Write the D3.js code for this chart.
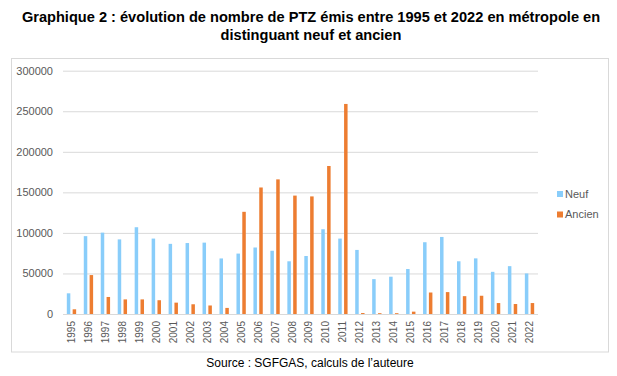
<!DOCTYPE html>
<html lang="fr">
<head>
  <meta charset="UTF-8">
  <title>PTZ émis 1995-2022</title>
  <style>
    body { margin: 0; background: #fff; }
    svg { display: block; font-family: "Liberation Sans", Arial, sans-serif; }
  </style>
  <script src="https://d3js.org/d3.v7.min.js"></script>
</head>
<body>
  <svg id="chart" width="617" height="376"></svg>
  <script>
    const years = ['1995','1996','1997','1998','1999','2000','2001','2002','2003','2004',
      '2005','2006','2007','2008','2009','2010','2011','2012','2013','2014',
      '2015','2016','2017','2018','2019','2020','2021','2022'];
    const neuf = [25500, 96000, 100300, 92000, 107000, 93000, 86500, 87500, 88000, 68500,
      74500, 82000, 78000, 65000, 71500, 104500, 93000, 79000, 43000, 46000,
      55500, 88500, 95000, 65000, 68600, 52000, 59000, 50000];
    const ancien = [5800, 48000, 21000, 18000, 18000, 17000, 14000, 12000, 10500, 7500,
      126000, 156000, 166000, 146000, 145000, 182500, 259000, 1200, 1000, 1000,
      2900, 26500, 27000, 22000, 22500, 13500, 12300, 13500];
    const series = ['Neuf', 'Ancien'];
    const colors = ['#89cdfa', '#ed7d31'];
    const yTicks = [0, 50000, 100000, 150000, 200000, 250000, 300000];

    const svg = d3.select('#chart');
    const m = { left: 63, right: 538, top: 70.7, bottom: 314 };

    // titre
    const title = svg.append('text')
      .attr('text-anchor', 'middle')
      .attr('font-size', 14.6)
      .attr('font-weight', 'bold')
      .attr('fill', '#000');
    title.append('tspan').attr('x', 311).attr('y', 22)
      .text('Graphique 2 : évolution de nombre de PTZ émis entre 1995 et 2022 en métropole en');
    title.append('tspan').attr('x', 311).attr('y', 40)
      .text('distinguant neuf et ancien');

    // cadre
    svg.append('rect')
      .attr('x', 11.5).attr('y', 58.5)
      .attr('width', 597).attr('height', 293.5)
      .attr('fill', 'none')
      .attr('stroke', '#d9d9d9');

    const x0 = d3.scaleBand().domain(years)
      .range([m.left, m.right])
      .paddingInner(0.45).paddingOuter(0.225);
    const x1 = d3.scaleBand().domain(series)
      .range([0, x0.bandwidth()])
      .paddingInner(0.4);
    const y = d3.scaleLinear().domain([0, 300000]).range([m.bottom, m.top]);

    // grille + étiquettes Y
    const yAxis = svg.append('g')
      .attr('transform', `translate(${m.left},0)`)
      .call(d3.axisLeft(y).tickValues(yTicks).tickSize(-(m.right - m.left)).tickPadding(10).tickFormat(d3.format('d')));
    yAxis.select('.domain').remove();
    yAxis.selectAll('line').attr('stroke', '#d9d9d9');
    yAxis.selectAll('text').attr('fill', '#595959').attr('font-size', 11);

    // barres
    const rows = years.map((yr, i) => ({ year: yr, values: [neuf[i], ancien[i]] }));
    const groups = svg.append('g').selectAll('g')
      .data(rows).join('g')
      .attr('transform', d => `translate(${x0(d.year)},0)`);
    groups.selectAll('rect')
      .data(d => d.values.map((v, k) => ({ key: series[k], v, k })))
      .join('rect')
      .attr('x', d => x1(d.key))
      .attr('width', x1.bandwidth())
      .attr('y', d => y(d.v))
      .attr('height', d => y(0) - y(d.v))
      .attr('fill', d => colors[d.k]);

    // étiquettes X
    const xAxis = svg.append('g')
      .attr('transform', `translate(0,${m.bottom})`)
      .call(d3.axisBottom(x0).tickSize(0));
    xAxis.select('.domain').remove();
    xAxis.selectAll('text')
      .attr('fill', '#595959')
      .attr('font-size', 10)
      .attr('transform', 'rotate(-90)')
      .attr('text-anchor', 'end')
      .attr('x', -7)
      .attr('y', 0)
      .attr('dy', '0.35em');

    // légende
    const legend = svg.append('g').selectAll('g')
      .data(series).join('g')
      .attr('transform', (d, i) => `translate(557,${191 + i * 20.5})`);
    legend.append('rect')
      .attr('width', 6).attr('height', 6)
      .attr('fill', (d, i) => colors[i]);
    legend.append('text')
      .attr('x', 8).attr('y', 3).attr('dy', '0.35em')
      .attr('font-size', 11)
      .attr('fill', '#595959')
      .text(d => d);

    // source
    svg.append('text')
      .attr('x', 310).attr('y', 367)
      .attr('text-anchor', 'middle')
      .attr('font-size', 12)
      .attr('fill', '#000')
      .text('Source : SGFGAS, calculs de l’auteure');
  </script>
</body>
</html>
